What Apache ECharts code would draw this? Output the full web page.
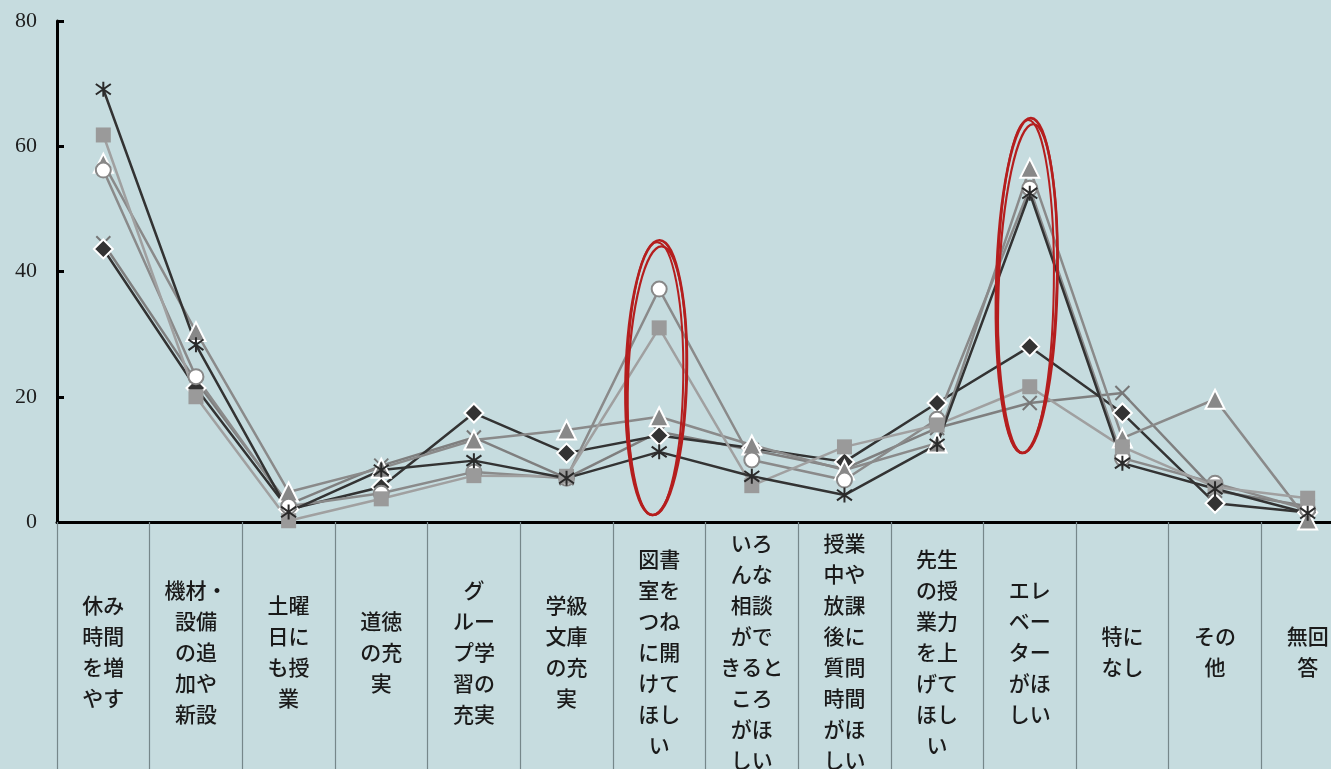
<!DOCTYPE html>
<html>
<head>
<meta charset="utf-8">
<style>
  html, body { margin: 0; padding: 0; background: #c6dcdf; }
  #chart { width: 1331px; height: 769px; }
</style>
<script src="https://cdn.jsdelivr.net/npm/echarts@6/dist/echarts.min.js"></script>
</head>
<body>
<div id="chart"></div>
<script>
// ---- data ----
const categories = [
  '休み\n時間\nを増\nやす',
  '機材・\n設備\nの追\n加や\n新設',
  '土曜\n日に\nも授\n業',
  '道徳\nの充\n実',
  'グ\nルー\nプ学\n習の\n充実',
  '学級\n文庫\nの充\n実',
  '図書\n室を\nつね\nに開\nけて\nほし\nい',
  'いろ\nんな\n相談\nがで\nきると\nころ\nがほ\nしい',
  '授業\n中や\n放課\n後に\n質問\n時間\nがほ\nしい',
  '先生\nの授\n業力\nを上\nげて\nほし\nい',
  'エレ\nベー\nター\nがほ\nしい',
  '特に\nなし',
  'その\n他',
  '無回\n答'
];
const yTicks = [0, 20, 40, 60, 80];

const crossValues    = [44.5, 22.5, 2.8, 9.0, 13.5, 7.0, 14.4, 11.5, 8.5, 15.0, 19.0, 20.6, 5.0, 2.5];
const diamondValues  = [43.6, 21.4, 2.0, 5.6, 17.4, 11.0, 13.8, 11.8, 9.6, 19.0, 28.0, 17.4, 3.0, 1.5];
const triangleValues = [57.3, 30.4, 4.8, 8.6, 13.1, 14.7, 16.8, 12.3, 8.3, 12.6, 56.5, 13.4, 19.6, 0.3];
const circleValues   = [56.2, 23.2, 2.5, 4.6, 8.0, 7.0, 37.2, 9.9, 6.7, 16.4, 53.3, 10.2, 6.2, 2.0];
const squareValues   = [61.8, 20.0, 0.2, 3.7, 7.4, 7.3, 31.0, 5.8, 12.0, 15.5, 21.6, 12.0, 5.6, 3.8];
const starValues     = [69.1, 28.3, 1.6, 8.3, 9.8, 7.0, 11.2, 7.3, 4.3, 12.4, 52.5, 9.4, 5.3, 1.4];

// circled highlights: [category index, low value, high value]
const highlights = [[6, 1.1, 45.0], [10, 11.0, 64.5]];

// ---- chart ----
const chart = echarts.init(document.getElementById('chart'), null, { renderer: 'canvas' });

const xPath = 'path://M-6,-6L6,6M-6,6L6,-6';
const starPath = 'path://M-6,-6L6,6M-6,6L6,-6M0,-8.5L0,8.5';

function lineSeries(name, data, lineColor, symbol, size, itemStyle) {
  return {
    name: name,
    type: 'line',
    data: data,
    symbol: symbol,
    symbolSize: size,
    showAllSymbol: true,
    lineStyle: { color: lineColor, width: 2.5 },
    itemStyle: itemStyle,
    emphasis: { disabled: true },
    z: 2
  };
}

const option = {
  backgroundColor: '#c6dcdf',
  animation: false,
  grid: { left: 57, top: 21, bottom: 247, right: -23, containLabel: false, outerBoundsMode: 'none' },
  xAxis: {
    type: 'category',
    data: categories,
    boundaryGap: true,
    axisLine: { show: true, onZero: false, lineStyle: { color: '#000', width: 3 } },
    axisTick: { show: true, length: 250, alignWithLabel: false, lineStyle: { color: '#76878a', width: 1.2 } },
    axisLabel: {
      interval: 0,
      margin: 130,
      verticalAlign: 'middle',
      align: 'center',
      fontFamily: 'Noto Sans CJK JP',
      fontWeight: 500,
      fontSize: 21,
      lineHeight: 31,
      color: '#1a1a1a'
    },
    splitLine: { show: false }
  },
  yAxis: {
    type: 'value',
    min: 0,
    max: 80,
    interval: 20,
    axisLine: { show: true, lineStyle: { color: '#000', width: 3 } },
    axisTick: { show: true, inside: true, length: 7, lineStyle: { color: '#000', width: 3 } },
    axisLabel: {
      margin: 20,
      fontFamily: 'Liberation Serif',
      fontSize: 22,
      color: '#1e1e1e',
      formatter: function (v) { return yTicks.indexOf(v) >= 0 ? String(v) : ''; }
    },
    splitLine: { show: false }
  },
  series: [
    lineSeries('×', crossValues, '#7f7f7f', xPath, 14,
      { color: 'rgba(0,0,0,0)', borderColor: '#777', borderWidth: 2 }),
    lineSeries('◆', diamondValues, '#333333', 'diamond', 19,
      { color: '#333333', borderColor: '#ffffff', borderWidth: 2 }),
    lineSeries('▲', triangleValues, '#8a8a8a', 'triangle', 19,
      { color: '#888888', borderColor: '#ffffff', borderWidth: 2 }),
    lineSeries('○', circleValues, '#8a8a8a', 'circle', 15,
      { color: '#ffffff', borderColor: '#888888', borderWidth: 2 }),
    lineSeries('■', squareValues, '#a0a0a0', 'rect', 15,
      { color: '#9a9a9a', borderWidth: 0 }),
    lineSeries('✳', starValues, '#333333', starPath, 15,
      { color: 'rgba(0,0,0,0)', borderColor: '#2a2a2a', borderWidth: 2 }),
    {
      name: 'highlight',
      type: 'custom',
      data: highlights,
      encode: { x: 0, y: [1, 2] },
      z: 5,
      silent: true,
      renderItem: function (params, api) {
        const cat = api.value(0);
        const top = api.coord([cat, api.value(2)]);
        const bottom = api.coord([cat, api.value(1)]);
        const w = api.size([1, 0])[0];
        const cx = top[0] - 3;
        const cy = (top[1] + bottom[1]) / 2;
        const ry = (bottom[1] - top[1]) / 2;
        const rx = w * 0.33;
        const stroke = '#b51e1e';
        const mk = function (dx, dy, drx, dry, rot, lw) {
          return {
            type: 'ellipse',
            shape: { cx: cx + dx, cy: cy + dy, rx: rx + drx, ry: ry + dry },
            rotation: rot,
            originX: cx, originY: cy,
            style: { fill: 'none', stroke: stroke, lineWidth: lw }
          };
        };
        return {
          type: 'group',
          children: [
            mk(0, 0, 0, 0, -0.025, 2.6),
            mk(1, 3, -1.5, -3, -0.035, 2.2),
            mk(-1, 1, -2.5, -1, -0.015, 2.0)
          ]
        };
      }
    }
  ]
};

chart.setOption(option);
</script>
</body>
</html>
